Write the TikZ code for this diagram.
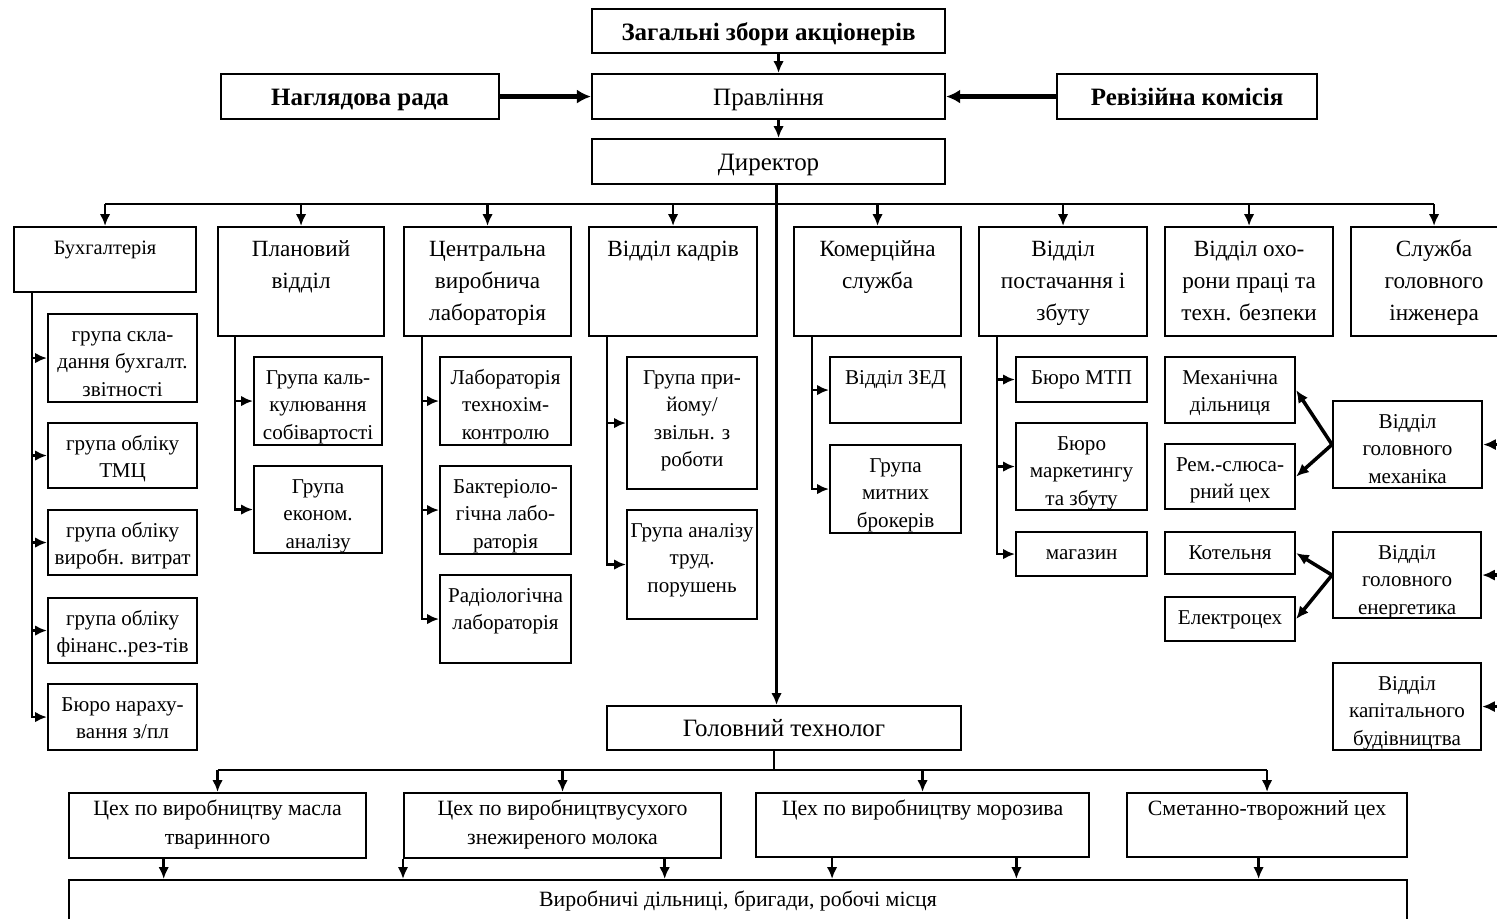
\documentclass[tikz,border=0pt]{standalone}
\usepackage{fontspec}
\setmainfont{Liberation Serif}
\usetikzlibrary{arrows.meta,calc}

% one pixel of the layout grid
\newlength{\px}
\setlength{\px}{0.01cm}
% box contents: [top pad]{width}{height}{lines}
\newcommand{\cell}[4][2.3pt]{\parbox[t][#3\px][t]{#2\px}{\centering\vspace*{#1}\begin{tabular}{@{}c@{}}#4\end{tabular}\par}}
\newcommand{\govfont}{\fontsize{7.1}{8.6}\selectfont}
\newcommand{\deptfont}{\fontsize{6.6}{9.1}\selectfont}
\newcommand{\unitfont}{\fontsize{6}{7.8}\selectfont}
\newcommand{\shopfont}{\fontsize{6.2}{8.5}\selectfont}

\begin{document}
\begin{tikzpicture}[
    x=0.01cm, y=-0.01cm,
    >={Latex[length=3.4pt,width=3pt]},
    box/.style={draw, line width=0.6pt, anchor=north west, inner sep=0pt},
    govbox/.style={box, font=\govfont},
    deptbox/.style={box, font=\deptfont},
    unitbox/.style={box, font=\unitfont},
    shopbox/.style={box, font=\shopfont},
    link/.style={->, line width=0.7pt},
    busline/.style={line width=0.7pt},
    heavy/.style={-{Latex[length=4pt,width=4pt]}, line width=1.5pt},
    fork/.style={-{Latex[length=3.6pt,width=3.2pt]}, line width=1pt}
]
\useasboundingbox (0,0) rectangle (1497,918);

% Governing bodies
\node[govbox] (zag)  at (591,8)   {\cell[2.8pt]{353}{44}{\bfseries Загальні збори акціонерів}};
\node[govbox] (prav) at (591,73)  {\cell[2.8pt]{353}{45}{Правління}};
\node[govbox] (nag)  at (220,73)  {\cell[2.8pt]{278}{45}{\bfseries Наглядова рада}};
\node[govbox] (rev)  at (1056,73) {\cell[2.8pt]{260}{45}{\bfseries Ревізійна комісія}};
\node[govbox] (dir)  at (591,138) {\cell[2.8pt]{353}{45}{Директор}};

\draw[link]  ([xshift=0.1cm]zag.south) -- ([xshift=0.1cm]prav.north);
\draw[heavy] (nag) -- (prav);
\draw[heavy] (rev) -- (prav);
\draw[link]  ([xshift=0.1cm]prav.south) -- ([xshift=0.1cm]dir.north);

% Departments under the director
\node[deptbox, font=\fontsize{5.8}{7}\selectfont] (buh) at (13,226) {\cell[3pt]{182}{65}{Бухгалтерія}};
\node[deptbox] (plan) at (217,226)  {\cell[2pt]{166}{109}{Плановий\\відділ}};
\node[deptbox] (lab)  at (403,226)  {\cell[2pt]{167}{109}{Центральна\\виробнича\\лабораторія}};
\node[deptbox] (kadr) at (588,226)  {\cell[2pt]{168}{109}{Відділ кадрів}};
\node[deptbox] (kom)  at (793,226)  {\cell[2pt]{167}{109}{Комерційна\\служба}};
\node[deptbox] (post) at (978,226)  {\cell[2pt]{168}{109}{Відділ\\постачання і\\збуту}};
\node[deptbox] (ohor) at (1164,226) {\cell[2pt]{168}{109}{Відділ охо-\\рони праці та\\техн. безпеки}};
\node[deptbox] (inzh) at (1350,226) {\cell[2pt]{166}{109}{Служба\\головного\\інженера}};

\coordinate (bus) at (777,204);
\draw[busline] (buh.north |- bus) -- (inzh.north |- bus);
\foreach \d in {buh,plan,lab,kadr,kom,post,ohor,inzh}
    \draw[link] (\d.north |- bus) -- (\d.north);

% Accounting groups
\node[unitbox] (bu1) at (47,313) {\cell{149}{88}{група скла-\\дання бухгалт.\\звітності}};
\node[unitbox] (bu2) at (47,422) {\cell{149}{65}{група обліку\\ТМЦ}};
\node[unitbox] (bu3) at (47,509) {\cell{149}{65}{група обліку\\виробн. витрат}};
\node[unitbox] (bu4) at (47,597) {\cell{149}{65}{група обліку\\фінанс..рез-тів}};
\node[unitbox] (bu5) at (47,683) {\cell{149}{66}{Бюро нараху-\\вання з/пл}};

\coordinate (sbuh) at (32,291);
\draw[link] (sbuh) |- (bu5.west);
\foreach \u in {bu1,bu2,bu3,bu4}
    \draw[link] (sbuh |- \u.west) -- (\u.west);

% Planning groups
\node[unitbox] (pl1) at (253,356) {\cell{128}{88}{Група каль-\\кулювання\\собівартості}};
\node[unitbox] (pl2) at (253,465) {\cell{128}{87}{Група\\економ.\\аналізу}};

\coordinate (splan) at (235,335);
\draw[link] (splan) |- (pl2.west);
\draw[link] (splan |- pl1.west) -- (pl1.west);

% Laboratories
\node[unitbox] (la1) at (439,356) {\cell{131}{88}{Лабораторія\\технохім-\\контролю}};
\node[unitbox] (la2) at (439,465) {\cell{131}{88}{Бактеріоло-\\гічна лабо-\\раторія}};
\node[unitbox] (la3) at (439,574) {\cell{131}{88}{Радіологічна\\лабораторія}};

\coordinate (slab) at (422,335);
\draw[link] (slab) |- (la3.west);
\foreach \u in {la1,la2}
    \draw[link] (slab |- \u.west) -- (\u.west);

% Personnel groups
\node[unitbox] (ka1) at (626,356) {\cell{130}{132}{Група при-\\йому/\\звільн. з\\роботи}};
\node[unitbox] (ka2) at (626,509) {\cell{130}{109}{Група аналізу\\труд.\\порушень}};

\coordinate (skadr) at (607,335);
\draw[link] (skadr) |- (ka2.west);
\draw[link] (skadr |- ka1.west) -- (ka1.west);

% Commercial service
\node[unitbox] (ko1) at (829,356) {\cell{131}{66}{Відділ ЗЕД}};
\node[unitbox] (ko2) at (829,444) {\cell{131}{88}{Група\\митних\\брокерів}};

\coordinate (skom) at (812,335);
\draw[link] (skom) |- (ko2.west);
\draw[link] (skom |- ko1.west) -- (ko1.west);

% Supply and sales
\node[unitbox] (po1) at (1015,356) {\cell{131}{45}{Бюро МТП}};
\node[unitbox] (po2) at (1015,422) {\cell{131}{87}{Бюро\\маркетингу\\та збуту}};
\node[unitbox] (po3) at (1015,531) {\cell{131}{44}{магазин}};

\coordinate (spost) at (997,335);
\draw[link] (spost) |- (po3.west);
\foreach \u in {po1,po2}
    \draw[link] (spost |- \u.west) -- (\u.west);

% Chief engineer's services
\node[unitbox] (meh)   at (1164,356) {\cell{130}{66}{Механічна\\дільниця}};
\node[unitbox] (rem)   at (1164,443) {\cell{130}{65}{Рем.-слюса-\\рний цех}};
\node[unitbox] (mechG) at (1332,400) {\cell{149}{87}{Відділ\\головного\\механіка}};
\node[unitbox] (kot)   at (1164,531) {\cell{130}{42}{Котельня}};
\node[unitbox] (el)    at (1164,596) {\cell{130}{44}{Електроцех}};
\node[unitbox] (energ) at (1332,531) {\cell{148}{86}{Відділ\\головного\\енергетика}};
\node[unitbox] (kap)   at (1332,662) {\cell{148}{87}{Відділ\\капітального\\будівництва}};

\draw[fork] (mechG.west) -- (meh.east);
\draw[fork] (mechG.west) -- (rem.east);
\draw[fork] (energ.west) -- (kot.east);
\draw[fork] (energ.west) -- (el.east);
\foreach \r in {mechG,energ,kap}
    \draw[fork] ([xshift=0.3cm]\r.east) -- (\r.east);

% Chief technologist and workshops
\node[govbox] (tech) at (606,705) {\cell[2.6pt]{354}{44}{Головний технолог}};
\draw[->, line width=1pt] ([xshift=0.08cm]dir.south) -- ([xshift=0.08cm]dir.south |- tech.north);

\node[shopbox] (c1) at (68,792)   {\cell[0.3pt]{297}{65}{Цех по виробництву масла\\тваринного}};
\node[shopbox] (c2) at (403,792)  {\cell[0.3pt]{317}{65}{Цех по виробництвусухого\\знежиреного молока}};
\node[shopbox] (c3) at (755,792)  {\cell[0.3pt]{333}{64}{Цех по виробництву морозива}};
\node[shopbox] (c4) at (1126,792) {\cell[0.3pt]{280}{64}{Сметанно-творожний цех}};
\node[shopbox] (prod) at (68,879) {\cell[1.5pt]{1338}{80}{Виробничі дільниці, бригади, робочі місця}};

\coordinate (bus2) at (777,770);
\draw[busline] ([xshift=-0.1cm]tech.south) -- ([xshift=-0.1cm]tech.south |- bus2);
\draw[busline] (c1.north |- bus2) -- (c4.north |- bus2);
\foreach \c in {c1,c2,c3,c4}
    \draw[link] (\c.north |- bus2) -- (\c.north);

\foreach \c/\f in {c1/0.32, c2/0, c2/0.82, c3/0.23, c3/0.78, c4/0.47}
    \draw[link] ($(\c.south west)!\f!(\c.south east)$) coordinate (t) -- (t |- prod.north);

\end{tikzpicture}
\end{document}
